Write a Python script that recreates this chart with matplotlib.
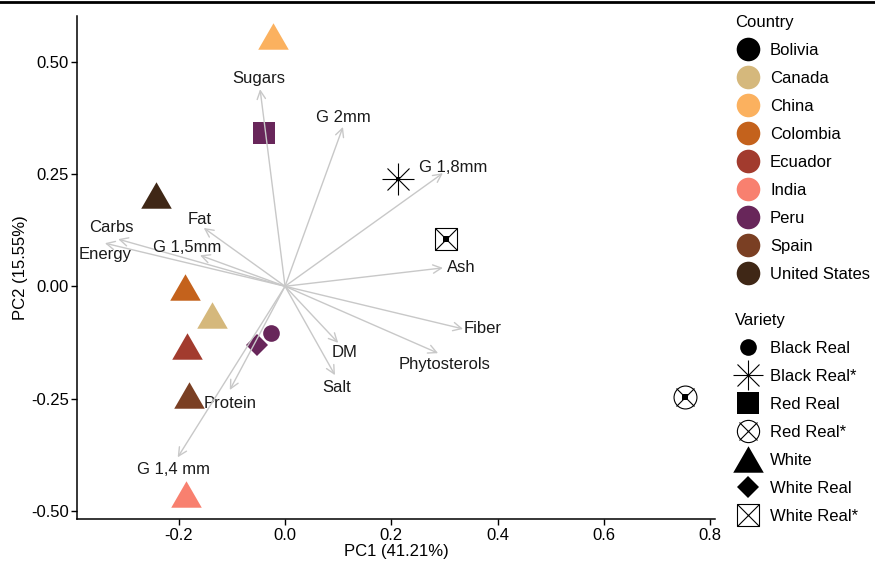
import numpy as np
import matplotlib.pyplot as plt
from matplotlib.lines import Line2D
from matplotlib.legend_handler import HandlerTuple

plt.rcParams["font.family"] = ["Liberation Sans", "DejaVu Sans"]
plt.rcParams["font.size"] = 12

# PCA scores per sample
pc1 = [-0.023, -0.039, -0.242, -0.188, -0.138, -0.184, -0.027, -0.052, -0.181, -0.186, 0.212, 0.302, 0.752]
pc2 = [0.558, 0.342, 0.203, -0.002, -0.065, -0.133, -0.104, -0.130, -0.242, -0.462, 0.238, 0.105, -0.247]
country = ["China", "Peru", "United States", "Colombia", "Canada", "Ecuador", "Peru", "Peru",
           "Spain", "India", "Bolivia", "Bolivia", "Bolivia"]
variety = ["White", "Red Real", "White", "White", "White", "White", "Black Real", "White Real",
           "White", "White", "Black Real*", "White Real*", "Red Real*"]

# variable loadings
var_names = ["Sugars", "G 2mm", "G 1,8mm", "Ash", "Fiber", "Phytosterols", "DM", "Salt",
             "Protein", "G 1,4 mm", "Carbs", "Energy", "Fat", "G 1,5mm"]
load_x = [-0.047, 0.109, 0.297, 0.297, 0.335, 0.288, 0.100, 0.094, -0.104, -0.202, -0.314, -0.339, -0.153, -0.160]
load_y = [0.439, 0.355, 0.252, 0.041, -0.095, -0.149, -0.126, -0.198, -0.231, -0.381, 0.105, 0.096, 0.130, 0.069]
# label offsets from arrow tips, in points
label_off = [(-0.7, 8), (0, 6.5), (7.2, 4.3), (13, 0), (14.4, 0), (4.3, -8), (4.3, -7.2), (1.4, -8.6),
             (0, -9.4), (-2.9, -8.6), (-5, 8.6), (0, -8), (-3.2, 5.8), (-9, 5.8)]

countries = ["Bolivia", "Canada", "China", "Colombia", "Ecuador", "India", "Peru", "Spain", "United States"]
country_colors = ["#000000", "#D5B87C", "#FBB15F", "#C4621C", "#A23B2E", "#F8806F", "#68265A", "#7A3F23", "#3F2716"]
varieties = ["Black Real", "Black Real*", "Red Real", "Red Real*", "White", "White Real", "White Real*"]

cmap = dict(zip(countries, country_colors))

# equilateral triangle marker
h = np.sqrt(3) / 2
tri = [(0, h / 2), (-0.5, -h / 2), (0.5, -h / 2), (0, h / 2)]


def variety_artists(ax, x, y, v, c):
    """Draw one sample with the marker of its variety."""
    kw = dict(ls="", color=c)
    if v == "Black Real":
        ax.plot(x, y, marker="o", ms=12, mew=0, **kw)
    elif v == "Red Real":
        ax.plot(x, y, marker="s", ms=16, mew=0, **kw)
    elif v == "White":
        ax.plot(x, y, marker=tri, ms=22, mew=0, **kw)
    elif v == "White Real":
        ax.plot(x, y, marker="D", ms=11, mew=0, **kw)
    elif v == "Black Real*":
        ax.plot(x, y, marker="+", ms=23, mew=0.8, **kw)
        ax.plot(x, y, marker="x", ms=16, mew=0.8, **kw)
        ax.plot(x, y, marker="s", ms=3, mew=0, **kw)
    elif v == "White Real*":
        ax.plot(x, y, marker="s", ms=16, mew=0.8, mfc="none", **kw)
        ax.plot(x, y, marker="x", ms=16, mew=0.8, **kw)
        ax.plot(x, y, marker="s", ms=4, mew=0, **kw)
    elif v == "Red Real*":
        ax.plot(x, y, marker="o", ms=16.5, mew=0.8, mfc="none", **kw)
        ax.plot(x, y, marker="x", ms=13, mew=0.8, **kw)
        ax.plot(x, y, marker="s", ms=4, mew=0, **kw)


fig = plt.figure(figsize=(8.75, 5.62), dpi=100)
ax = fig.add_axes([0.0883, 0.076, 0.7288, 0.8955])

# loading arrows and labels
for name, lx, ly, off in zip(var_names, load_x, load_y, label_off):
    ax.annotate("", xy=(lx, ly), xytext=(0, 0),
                arrowprops=dict(arrowstyle="->,head_length=0.5,head_width=0.25", color="#C8C8C8",
                                lw=1, shrinkA=0, shrinkB=0, mutation_scale=12))
    ax.annotate(name, xy=(lx, ly), xytext=off, textcoords="offset points",
                ha="center", va="center", fontsize=12, color="#1A1A1A")

# sample scores
for x, y, c, v in zip(pc1, pc2, country, variety):
    variety_artists(ax, x, y, v, cmap[c])

ax.set_xlim(-0.391, 0.809)
ax.set_ylim(-0.519, 0.602)
ax.set_xticks([-0.2, 0.0, 0.2, 0.4, 0.6, 0.8])
ax.set_xticklabels(["-0.2", "0.0", "0.2", "0.4", "0.6", "0.8"])
ax.set_yticks([-0.5, -0.25, 0, 0.25, 0.5])
ax.set_yticklabels(["-0.50", "-0.25", "0.00", "0.25", "0.50"])
ax.set_xlabel("PC1 (41.21%)", fontsize=12, labelpad=1)
ax.set_ylabel("PC2 (15.55%)", fontsize=12, labelpad=2)
for s in ["top", "right"]:
    ax.spines[s].set_visible(False)
for s in ["left", "bottom"]:
    ax.spines[s].set_linewidth(1.1)
ax.tick_params(direction="out", length=4, width=1, labelsize=12, colors="black", pad=2)

# legends
country_handles = [Line2D([], [], ls="", marker="o", ms=17, mew=0, color=c) for c in country_colors]
k = dict(ls="", color="black")
variety_handles = [
    Line2D([], [], marker="o", ms=12, mew=0, **k),
    (Line2D([], [], marker="+", ms=22, mew=0.8, **k), Line2D([], [], marker="x", ms=15.5, mew=0.8, **k)),
    Line2D([], [], marker="s", ms=16, mew=0, **k),
    (Line2D([], [], marker="o", ms=16, mew=0.8, mfc="none", **k), Line2D([], [], marker="x", ms=12.5, mew=0.8, **k)),
    Line2D([], [], marker=tri, ms=22, mew=0, **k),
    Line2D([], [], marker="D", ms=11, mew=0, **k),
    (Line2D([], [], marker="s", ms=16, mew=0.8, mfc="none", **k), Line2D([], [], marker="x", ms=16, mew=0.8, **k)),
]
leg_kw = dict(loc="upper left", frameon=False, fontsize=12, title_fontsize=12, alignment="left",
              handlelength=1.6, handletextpad=0.5, labelspacing=0.78, borderaxespad=0,
              borderpad=0, handler_map={tuple: HandlerTuple(ndivide=1, pad=0)})
fig.legend(country_handles, countries, title="Country",
           bbox_to_anchor=(735 / 875, 1 - 15 / 562), **leg_kw)
fig.legend(variety_handles, varieties, title="Variety",
           bbox_to_anchor=(735 / 875, 1 - 313 / 562), **leg_kw)

# top border line
fig.add_artist(Line2D([0, 1], [1 - 1.5 / 562, 1 - 1.5 / 562], transform=fig.transFigure,
                      color="black", lw=2))

fig.savefig("out.png", dpi=100)
